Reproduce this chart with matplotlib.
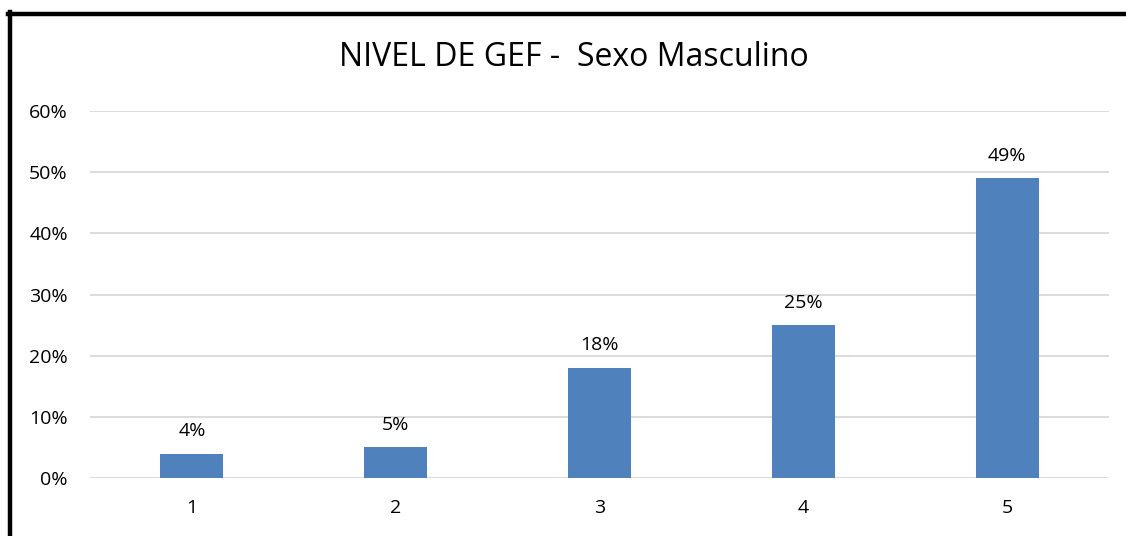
import matplotlib
matplotlib.use('Agg')
import matplotlib.pyplot as plt
from matplotlib.lines import Line2D
from matplotlib.ticker import FuncFormatter

categories = ['1', '2', '3', '4', '5']
values = [4, 5, 18, 25, 49]
title = 'NIVEL DE GEF -  Sexo Masculino'

W, H = 1126, 536
plt.rcParams['font.family'] = ['Open Sans', 'DejaVu Sans']

fig = plt.figure(figsize=(W / 100, H / 100), dpi=100)
ax = fig.add_axes([90 / W, 1 - 478 / H, (1109 - 90) / W, (478 - 111) / H])

x = range(len(values))
ax.bar(x, values, width=0.31, color='#4F81BD', zorder=3)
for i, v in zip(x, values):
    ax.text(i, v + 2.2, f'{v}%', ha='center', va='bottom', fontsize=14, color='#000000')

ax.set_xlim(-0.5, len(values) - 0.5)
ax.set_ylim(0, 60)
ax.set_yticks(range(0, 61, 10))
ax.yaxis.set_major_formatter(FuncFormatter(lambda v, p: f'{v:.0f}%'))
ax.set_xticks(list(x))
ax.set_xticklabels(categories)
ax.tick_params(axis='both', length=0, labelsize=14, colors='#000000')
ax.tick_params(axis='x', pad=15)
ax.tick_params(axis='y', pad=16)
ax.grid(axis='y', color='#D9D9D9', linewidth=1.3, zorder=0)
for s in ax.spines.values():
    s.set_visible(False)

fig.text(574 / W, 1 - 57 / H, title, ha='center', va='center', fontsize=23)

# outer frame (left and top edges)
fig.add_artist(Line2D([10 / W, 10 / W], [0, 1 - 12 / H], color='black', linewidth=3.2, transform=fig.transFigure))
fig.add_artist(Line2D([8 / W, 1], [1 - 13.5 / H, 1 - 13.5 / H], color='black', linewidth=3.2, transform=fig.transFigure))

fig.savefig('out.png', dpi=100)
